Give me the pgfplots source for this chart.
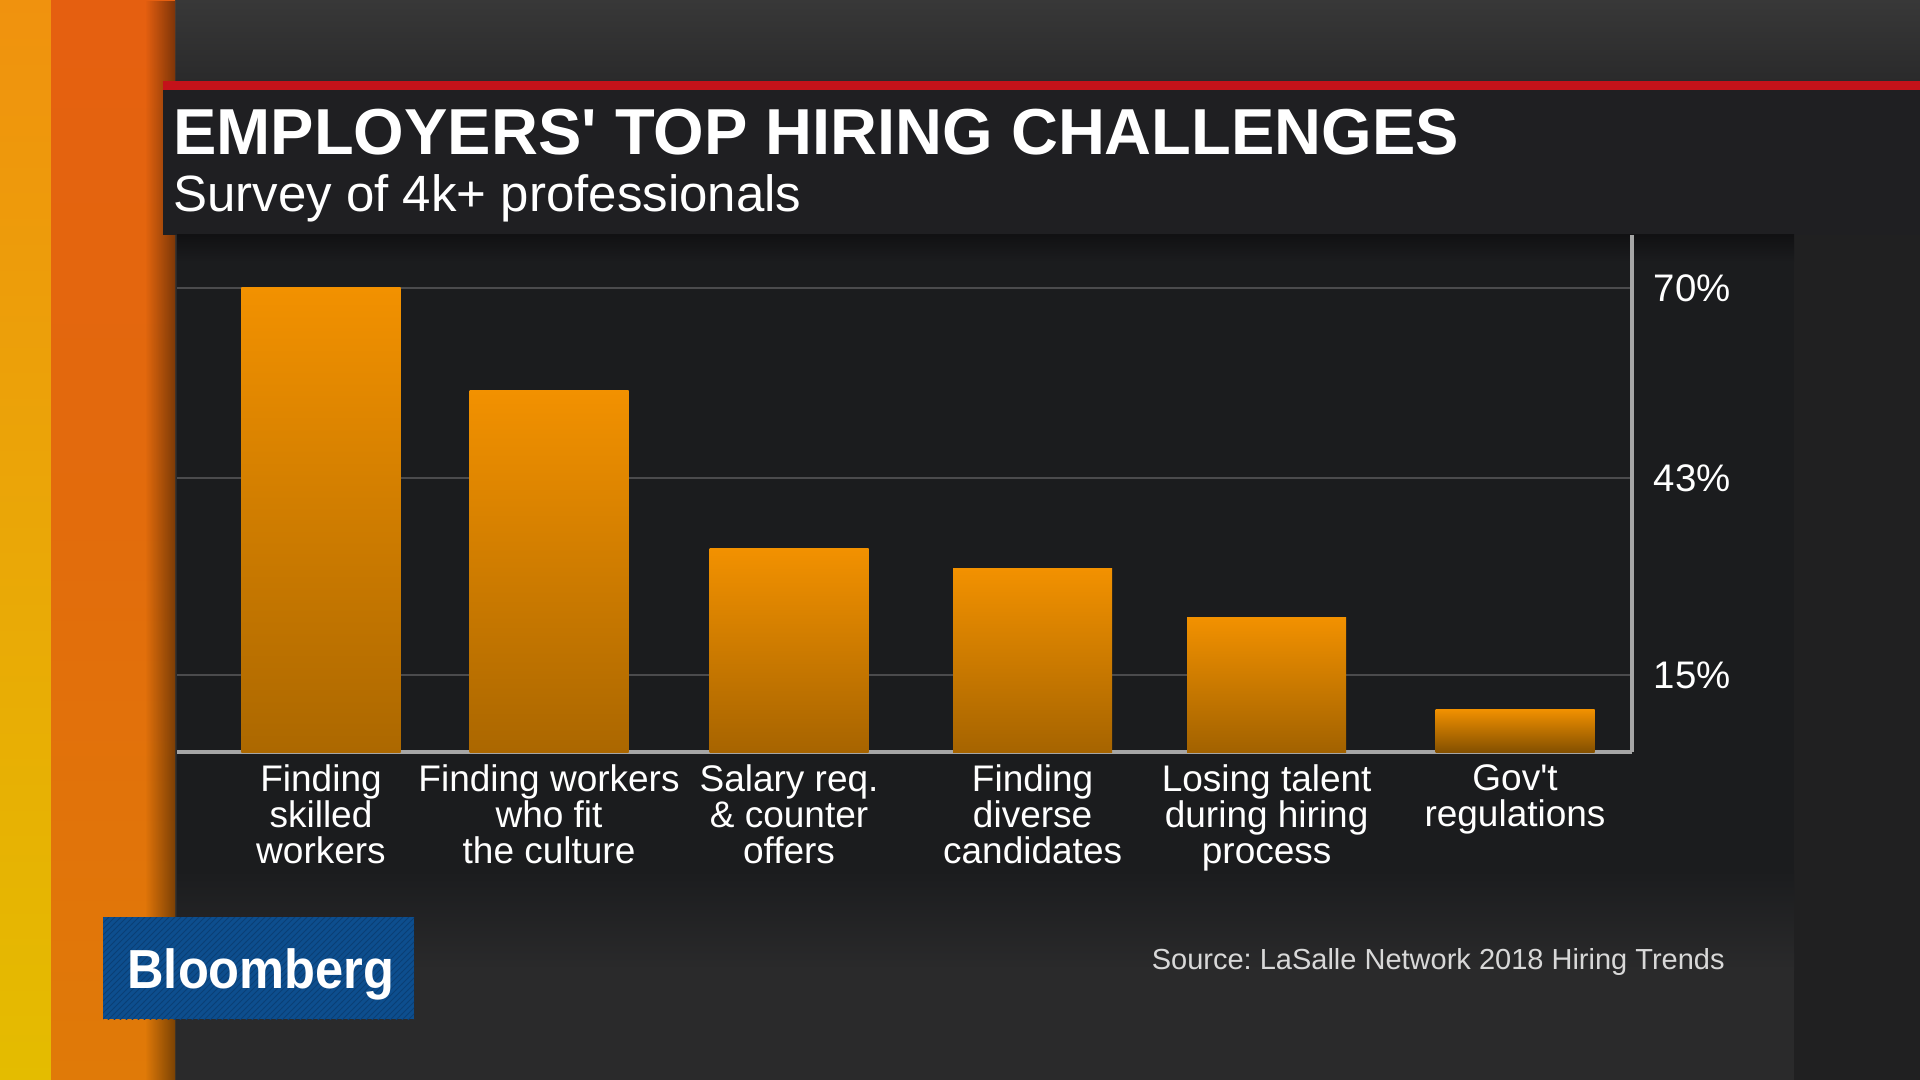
\documentclass[border=0pt]{standalone}
\usepackage{pgfplots}
\pgfplotsset{compat=1.18}
\usepackage{graphicx}
\usepackage{fontspec}
\setmainfont{Liberation Sans}
\newfontfamily\hv{Liberation Sans}
\usetikzlibrary{fadings,patterns}
\frenchspacing
\definecolor{bgc}{HTML}{2A2A2B}
\definecolor{topc}{HTML}{383838}
\definecolor{titlec}{HTML}{1F1F22}
\definecolor{panelc}{HTML}{1B1C1E}
\definecolor{paneltop}{HTML}{111113}
\definecolor{redc}{HTML}{C4121A}
\definecolor{barTop}{HTML}{F29100}
% bottom colours per bar, so that the visible part (above the axis floor) runs to B06A00
\definecolor{bb1}{RGB}{172,104,0}
\definecolor{bb2}{RGB}{171,103,0}
\definecolor{bb3}{RGB}{167,100,0}
\definecolor{bb4}{RGB}{166,100,0}
\definecolor{bb5}{RGB}{162,98,0}
\definecolor{bb6}{RGB}{132,80,0}
\definecolor{gridc}{HTML}{4B4B4D}
\definecolor{axisc}{HTML}{A6A6A6}
\definecolor{bluec}{HTML}{0D4E8E}
\definecolor{blued}{HTML}{0A3F75}
\definecolor{srcc}{HTML}{D8D8D8}
\definecolor{rightc}{HTML}{202021}
\definecolor{stripAt}{HTML}{F0920E}
\definecolor{stripAb}{HTML}{E4BC00}
\definecolor{stripBt}{HTML}{E55F10}
\definecolor{stripBb}{HTML}{E07A08}
\tikzfading[name=fadeR, left color=transparent!100, right color=transparent!0]
\begin{document}
\begin{tikzpicture}
\begin{scope}[x=0.5pt,y=-0.5pt]
  % background
  \fill[bgc] (0,0) rectangle (1920,1080);
  \shade[top color=topc, bottom color=bgc] (0,0) rectangle (1920,81);
  \fill[rightc] (1794,235) rectangle (1920,1080);
  % left strips
  \shade[top color=stripAt, bottom color=stripAb] (0,0) rectangle (51,1080);
  \shade[top color=stripBt, bottom color=stripBb] (51,0) rectangle (175,1080);
  \fill[black, opacity=0.45, path fading=fadeR] (145,0) rectangle (175,1080);
  % red line and title band
  \fill[redc] (163,81) rectangle (1920,90);
  \fill[titlec] (163,90) rectangle (1920,235);
  % chart panel
  \fill[panelc] (177,235) rectangle (1794,870);
  \shade[top color=paneltop, bottom color=panelc] (177,235) rectangle (1794,262);
  \shade[top color=panelc, bottom color=bgc] (177,870) rectangle (1794,970);
  % title and subtitle
  \node[anchor=base west, inner sep=0pt, text=white, font=\hv\bfseries\fontsize{32.5pt}{34pt}\selectfont] at (173,155) {EMPLOYERS' TOP HIRING CHALLENGES};
  \node[anchor=base west, inner sep=0pt, text=white, font=\hv\fontsize{25.5pt}{27pt}\selectfont] at (173,212) {Survey of 4k+ professionals};
  % Bloomberg box
  \fill[bluec] (103,917) rectangle (414,1019);
  \fill[pattern=north east lines, pattern color=blued] (103,917) rectangle (414,1019);
  \node[anchor=base west, inner sep=0pt, text=white] at (127,988) {\scalebox{0.92}[1]{\hv\bfseries\fontsize{27.5pt}{30pt}\selectfont Bloomberg}};
  % source
  \node[anchor=base east, inner sep=0pt, text=srcc, font=\hv\fontsize{14.5pt}{16pt}\selectfont] at (1725,969) {Source: LaSalle Network 2018 Hiring Trends};
\end{scope}
\begin{axis}[
  at={(88.5pt,-376pt)}, anchor=south west,
  width=727.5pt, height=258.5pt, scale only axis,
  xmin=-0.603, xmax=5.49, ymin=4.1, ymax=77.5,
  axis x line*=bottom, axis y line*=right,
  axis line style={draw=axisc, line width=2pt, -},
  ytick={15,43,70}, yticklabels={15\%,43\%,70\%},
  ymajorgrids, major grid style={draw=gridc, line width=1.2pt},
  major tick length=0pt,
  xtick={0,0.955,1.96,2.98,3.96,5},
  xticklabels={{Finding\\skilled\\workers},{Finding workers\\who fit\\the culture},{Salary req.\\\& counter\\offers},{Finding\\diverse\\candidates},{Losing talent\\during hiring\\process},{Gov't\\regulations}},
  xticklabel style={font=\hv\fontsize{18.5pt}{18pt}\selectfont, text=white, align=center, anchor=north, inner sep=0pt, yshift=-6pt},
  yticklabel style={font=\hv\fontsize{19.2pt}{20pt}\selectfont, text=white, anchor=east, inner sep=0pt, xshift=49.5pt},
  barstyle/.style={ybar, bar width=79.5pt, bar shift=0pt, draw=none, top color=barTop, bottom color=#1},
]
\addplot[barstyle=bb1] coordinates {(0,70.0)};
\addplot[barstyle=bb2] coordinates {(0.955,55.4)};
\addplot[barstyle=bb3] coordinates {(1.96,33.0)};
\addplot[barstyle=bb4] coordinates {(2.98,30.1)};
\addplot[barstyle=bb5] coordinates {(3.96,23.2)};
\addplot[barstyle=bb6] coordinates {(5,10.2)};
\end{axis}
\end{tikzpicture}
\end{document}
